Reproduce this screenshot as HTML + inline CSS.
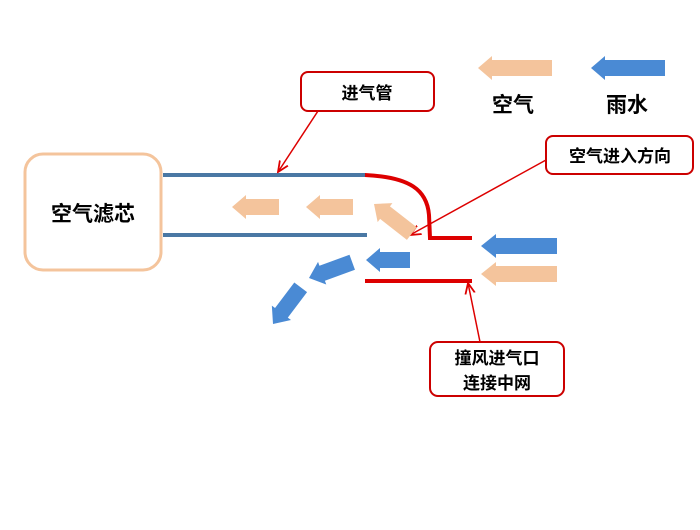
<!DOCTYPE html>
<html><head><meta charset="utf-8"><style>
body{margin:0;background:#fff;}
svg text{font-family:"Liberation Sans","Noto Sans CJK SC",sans-serif;font-weight:bold;fill:#000;}
</style></head><body>
<svg width="700" height="525" viewBox="0 0 700 525" xmlns="http://www.w3.org/2000/svg">
<defs>
<marker id="ah" viewBox="0 0 10 10" refX="9" refY="5" markerWidth="8" markerHeight="8" orient="auto"><path d="M0,1 L9,5 L0,9" fill="none" stroke="#d00" stroke-width="1.5"/></marker>
</defs>
<rect x="25" y="154" width="136" height="116" rx="18" fill="#fff" stroke="#f4c49c" stroke-width="3"/>
<text x="93" y="221" font-size="21" text-anchor="middle">空气滤芯</text>
<rect x="301" y="72" width="133" height="39" rx="7" fill="#fff" stroke="#c00" stroke-width="2"/>
<text x="367" y="99" font-size="17" text-anchor="middle">进气管</text>
<rect x="546" y="136" width="147" height="38" rx="7" fill="#fff" stroke="#c00" stroke-width="2"/>
<text x="620" y="162" font-size="17" text-anchor="middle">空气进入方向</text>
<rect x="430" y="342" width="134" height="54" rx="8" fill="#fff" stroke="#c00" stroke-width="2"/>
<text x="497" y="364" font-size="17" text-anchor="middle">撞风进气口</text>
<text x="497" y="389" font-size="17" text-anchor="middle">连接中网</text>
<text x="513" y="112" font-size="21" text-anchor="middle">空气</text>
<text x="627" y="112" font-size="21" text-anchor="middle">雨水</text>
<line x1="163" y1="175" x2="366" y2="175" stroke="#4a78a4" stroke-width="4"/>
<line x1="163" y1="235" x2="367" y2="235" stroke="#4a78a4" stroke-width="4"/>
<path d="M365,175 C410,177 427,190 429,215 L430,238 L472,238" fill="none" stroke="#d00" stroke-width="4"/>
<line x1="365" y1="281" x2="472" y2="281" stroke="#d00" stroke-width="4"/>
<line x1="318" y1="111" x2="278" y2="172" stroke="#d00" stroke-width="1.5" marker-end="url(#ah)"/>
<line x1="546" y1="160" x2="410" y2="235" stroke="#d00" stroke-width="1.5" marker-end="url(#ah)"/>
<line x1="480" y1="342" x2="468" y2="283" stroke="#d00" stroke-width="1.5" marker-end="url(#ah)"/>
<g fill="#f4c49c">
<polygon transform="translate(478,68)" points="0,0 14,-12 14,-8 74,-8 74,8 14,8 14,12"/>
<polygon transform="translate(232,207)" points="0,0 14,-12 14,-8 47,-8 47,8 14,8 14,12"/>
<polygon transform="translate(306,207)" points="0,0 14,-12 14,-8 47,-8 47,8 14,8 14,12"/>
<polygon transform="translate(374,204) rotate(38)" points="0,0 14,-12 14,-8 48,-8 48,8 14,8 14,12"/>
<polygon transform="translate(481,274)" points="0,0 15,-12 15,-8 76,-8 76,8 15,8 15,12"/>
</g>
<g fill="#4a8ad4">
<polygon transform="translate(591,68)" points="0,0 14,-12 14,-8 74,-8 74,8 14,8 14,12"/>
<polygon transform="translate(481,246)" points="0,0 15,-12 15,-8 76,-8 76,8 15,8 15,12"/>
<polygon transform="translate(366,260)" points="0,0 14,-12 14,-8 44,-8 44,8 14,8 14,12"/>
<polygon transform="translate(309,278) rotate(-20)" points="0,0 14,-12 14,-8 46,-8 46,8 14,8 14,12"/>
<polygon transform="translate(273,324) rotate(-53)" points="0,0 14,-12 14,-8 46,-8 46,8 14,8 14,12"/>
</g>
</svg>
</body></html>
